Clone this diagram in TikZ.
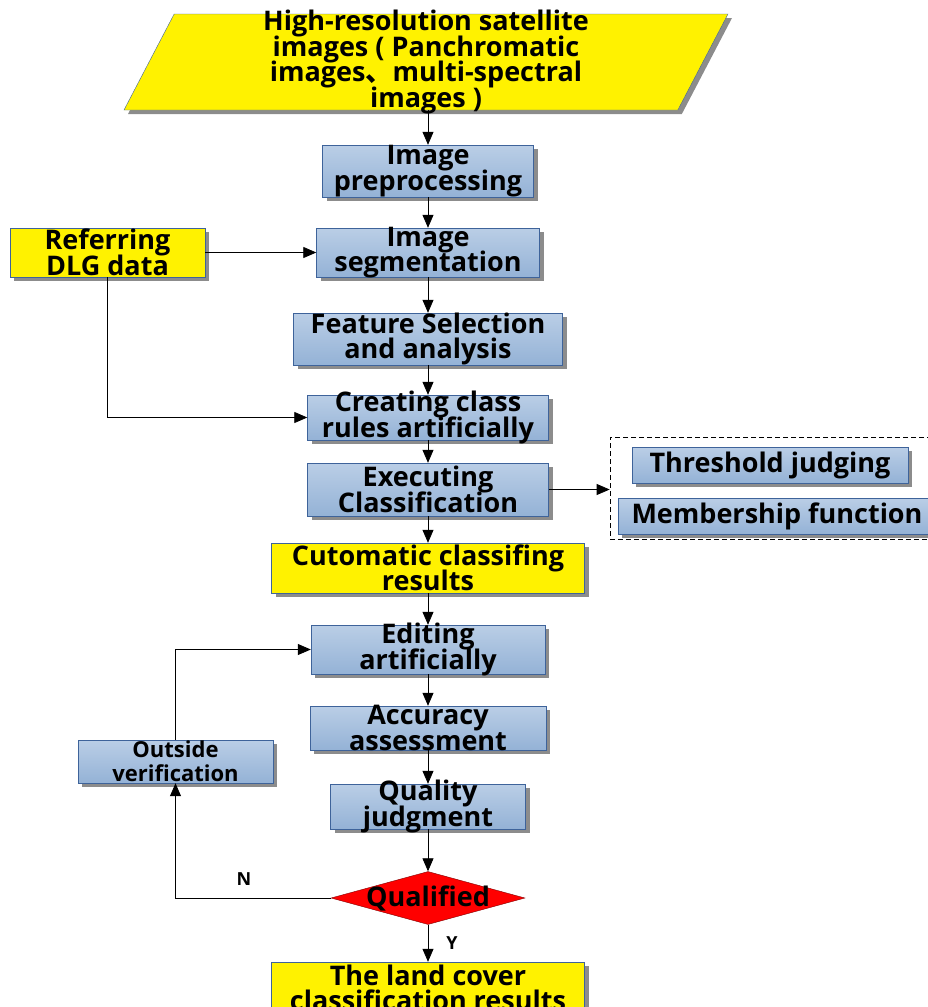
\documentclass[tikz,border=0pt]{standalone}
\usepackage{fontspec}
\setmainfont{Open Sans}
\newfontfamily\cjk{Noto Sans CJK SC}
\usetikzlibrary{shapes}
\usetikzlibrary{shadows}
\usetikzlibrary{arrows.meta}
\definecolor{boxtop}{HTML}{BACEE6}
\definecolor{boxbot}{HTML}{94B2D6}
\definecolor{boxline}{HTML}{3E639A}
\lineskiplimit=-30pt

\begin{document}
\begin{tikzpicture}[x=1pt, y=-1pt, >={Triangle[length=13pt, width=11pt]},
    every node/.style={font=\bfseries\fontsize{27}{25.5}\selectfont, align=center, inner sep=0pt},
    shade/.style={drop shadow={shadow xshift=4pt, shadow yshift=-4pt, fill=black!45, opacity=1}},
    bluebox/.style={rectangle, inner ysep=-9pt, draw=boxline, top color=boxtop, bottom color=boxbot, shade},
    yellowbox/.style={rectangle, inner ysep=-9pt, draw=boxline, fill=yellow, shade},
    link/.style={->, line width=0.8pt}]
    \useasboundingbox (0,0) rectangle (927,1007);
    % input images
    \node[trapezium, trapezium left angle=59, trapezium right angle=121, trapezium stretches body,
          minimum width=604, minimum height=96, inner ysep=-10pt, draw=boxline, fill=yellow, shade,
          font=\bfseries\fontsize{27}{25.5}\selectfont](img) at (426,62)
          {High-resolution satellite\\images ( Panchromatic\\images{\cjk 、}multi-spectral\\images )};
    % main column
    \node[bluebox, minimum width=211, minimum height=52](prep) at (428,171) {Image\\preprocessing};
    \node[bluebox, minimum width=223, minimum height=49](seg) at (428,252.5) {Image\\segmentation};
    \node[yellowbox, minimum width=195, minimum height=49](ref) at (107.5,252.5) {Referring\\DLG data};
    \node[bluebox, minimum width=269, minimum height=52](feat) at (428,339) {Feature Selection\\and analysis};
    \node[bluebox, minimum width=241, minimum height=45](create) at (428,417.5) {Creating class\\rules artificially};
    \node[bluebox, minimum width=241, minimum height=53](exec) at (428,489.5) {Executing\\Classification};
    \node[draw, dash pattern=on 5pt off 3pt, line width=0.7pt, minimum width=330, minimum height=102](rules) at (775,488) {};
    \node[bluebox, minimum width=276, minimum height=36](thresh) at (770,465) {Threshold judging};
    \node[bluebox, minimum width=318, minimum height=36](member) at (777,516) {Membership function};
    \node[yellowbox, minimum width=313, minimum height=50](auto) at (428,568) {Cutomatic classifing\\results};
    \node[bluebox, minimum width=234, minimum height=49](edit) at (428,649.5) {Editing\\artificially};
    \node[bluebox, minimum width=236, minimum height=44](acc) at (428,728) {Accuracy\\assessment};
    \node[bluebox, minimum width=195, minimum height=43, font=\bfseries\fontsize{22}{24}\selectfont](out) at (175.5,761.5) {Outside\\verification};
    \node[bluebox, minimum width=195, minimum height=45](qual) at (428,806.5) {Quality\\judgment};
    \node[diamond, minimum width=194, minimum height=53, draw=red!50!black, fill=red,
          label={[font=\bfseries\fontsize{27}{25.5}\selectfont]center:Qualified}](dec) at (428,898) {};
    \node[yellowbox, minimum width=313, minimum height=52](land) at (428,988) {The land cover\\classification results};
    % connectors
    \foreach \a/\b in {prep/seg, seg/feat, feat/create, create/exec, exec/auto, auto/edit, edit/acc, acc/qual, qual/dec}
    {\draw[link](\a) -- (\b);}
    \draw[link](img.south -| prep) -- (prep);
    \draw[link](dec) -- node[right=18pt, font=\bfseries\fontsize{18}{18}\selectfont]{Y} (land);
    \draw[link](ref) -- (seg);
    \draw[link](ref) |- (create);
    \draw[link](exec) -- (exec -| rules.west);
    \draw[link](dec) -| node[pos=0.28, above=12pt, font=\bfseries\fontsize{18}{18}\selectfont]{N} (out);
    \draw[link](out) |- (edit);
\end{tikzpicture}
\end{document}
